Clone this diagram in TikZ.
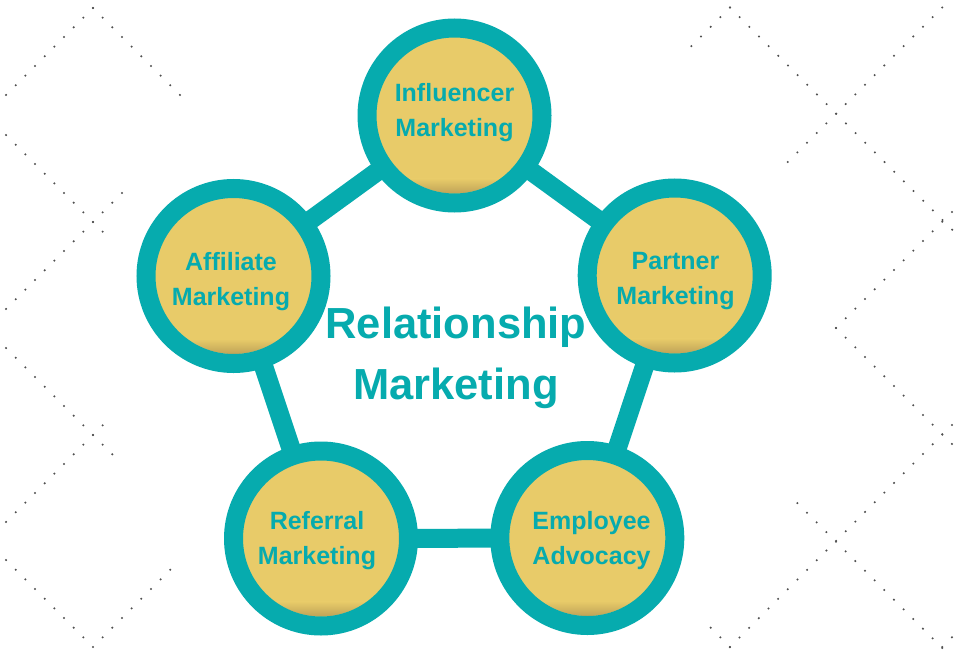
\documentclass[tikz,border=0pt]{standalone}
\usepackage{fontspec}
\setmainfont{Liberation Sans}
\definecolor{teal1}{RGB}{6,171,174}
\definecolor{gold1}{RGB}{232,203,105}
\definecolor{goldshadow}{RGB}{188,160,86}
\definecolor{dotgray}{RGB}{80,80,80}
\pgfdeclarelayer{background}
\pgfsetlayers{background,main}
\newcommand\dotrow[5]{\foreach \k in {#4,...,#5}{\fill[dotgray] ({#1+9.66*\k},{#2+#3*9.66*\k}) circle (1.15pt);}}
\tikzset{
  ring/.style={circle, fill=gold1, draw=teal1, line width=19pt, minimum size=175pt, inner sep=0pt,
    path picture={\begin{scope}
      \clip (path picture bounding box.center) circle (78pt);
      \shade[top color=gold1, bottom color=goldshadow]
        ([yshift=-63pt]path picture bounding box.center) ++(-80pt,0pt) rectangle ++(160pt,-16pt);
    \end{scope}}},
  conn/.style={draw=teal1, line width=19pt},
  lbl/.style={text=teal1, font=\bfseries\fontsize{25}{35}\selectfont, align=center, inner sep=0pt},
  bigtext/.style={text=teal1, font=\bfseries\fontsize{43.5}{60.5}\selectfont, align=center, inner sep=0pt}
}
\begin{document}
\begin{tikzpicture}[x=1pt,y=-1pt]
\useasboundingbox (0,0) rectangle (960,650);
\clip (0,0) rectangle (960,650);
% rings
\node[ring] (inf) at (454.5,115.5) {};
\node[ring] (par) at (674.7,275.5) {};
\node[ring] (emp) at (587.3,538) {};
\node[ring] (ref) at (321,538.5) {};
\node[ring] (aff) at (233.5,276) {};
\begin{pgfonlayer}{background}
\fill[white] (0,0) rectangle (960,650);
% dotted background lattice
\dotrow{93}{8}{-1}{-9}{1}
\dotrow{93}{8}{1}{-1}{9}
\dotrow{93}{222}{1}{-9}{1}
\dotrow{93}{222}{-1}{-9}{3}
\dotrow{93}{435}{1}{-9}{2}
\dotrow{93}{435}{-1}{-9}{1}
\dotrow{93}{647}{1}{-9}{0}
\dotrow{93}{647}{-1}{1}{8}
\dotrow{730}{7.5}{-1}{-4}{1}
\dotrow{730}{7.5}{1}{-1}{24}
\dotrow{942.3}{7.5}{-1}{-16}{1}
\dotrow{942.3}{221.7}{-1}{-11}{2}
\dotrow{836}{328}{1}{0}{13}
\dotrow{942.3}{434.6}{-1}{-22}{2}
\dotrow{730}{647}{1}{-2}{0}
\dotrow{836}{541.7}{1}{-4}{12}
\dotrow{942.3}{647}{-1}{0}{2}
\draw[conn] (inf.center) -- (par.center);
\draw[conn] (par.center) -- (emp.center);
\draw[conn] (emp.center) -- (ref.center);
\draw[conn] (ref.center) -- (aff.center);
\draw[conn] (aff.center) -- (inf.center);
\end{pgfonlayer}
% labels
\node[lbl] (infT) at (454.5,112.7) {Influencer\\Marketing};
\node[lbl] (parT) at (675.5,281.5) {Partner\\Marketing};
\node[lbl] (empT) at (591.5,540.5) {Employee\\Advocacy};
\node[lbl] (refT) at (317,540.5) {Referral\\Marketing};
\node[lbl] (affT) at (231,281.5) {Affiliate\\Marketing};
\node[bigtext] (title) at (456,358) {Relationship\\Marketing};
\end{tikzpicture}
\end{document}
